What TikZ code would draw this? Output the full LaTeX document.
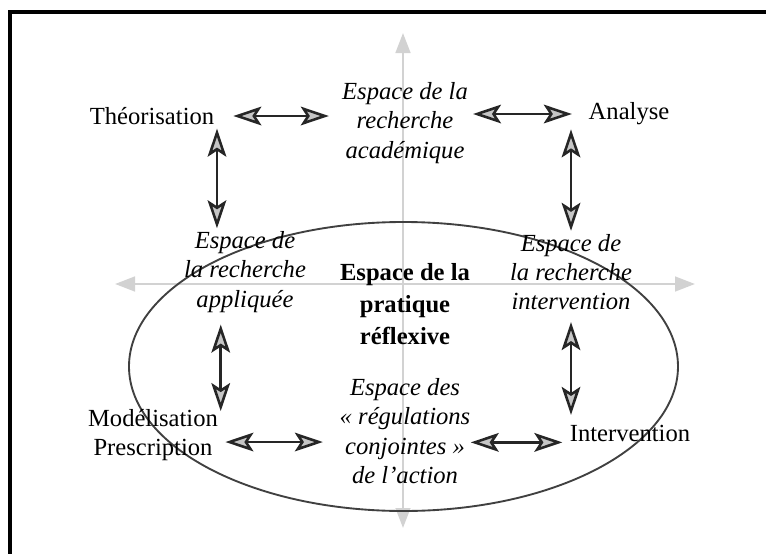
\documentclass[tikz,border=0pt]{standalone}
\usepackage{fontspec}
\setmainfont{Liberation Serif}
\usepackage{xcolor}
\usepackage{tikz}
\usetikzlibrary{arrows.meta, positioning, calc}

\tikzset{
    plain/.style={font=\fontsize{10.5}{12.5}\selectfont, inner sep=1pt, align=center},
    espace/.style={plain, font=\fontsize{10.5}{12.5}\selectfont\itshape},
    centre/.style={plain, font=\fontsize{10.5}{13.5}\selectfont\bfseries},
    dbl/.style={line width=1.1pt, black!85, {Stealth[length=4.2mm,width=2.8mm,inset=0.9mm,fill=gray!45]}-{Stealth[length=4.2mm,width=2.8mm,inset=0.9mm,fill=gray!45]}},
    axe/.style={line width=1.1pt, gray!35, {Triangle[length=3mm,width=2.2mm]}-{Triangle[length=3mm,width=2.2mm]}}
}

\begin{document}
\begin{tikzpicture}[x=0.015cm, y=-0.015cm]
    \useasboundingbox (0,0) rectangle (766,554);
    % cadre
    \draw[line width=1.4pt] (10,558) -- (10,12) -- (770,12);

    % axes
    \coordinate (haut) at (403,33);
    \coordinate (bas) at (403,528);
    \coordinate (gauche) at (115,284);
    \coordinate (droite) at (695,284);
    \draw[axe] (bas) -- (haut);
    \draw[axe] (gauche) -- (droite);

    % ellipse
    \draw[line width=0.8pt, black!75] (403.5,366.5) ellipse [x radius=274.5, y radius=144.5];

    % noeuds
    \node[plain] (theo) at (152,116) {Théorisation};
    \node[espace] (acad) at (405,123) {Espace de la\\recherche\\académique};
    \node[plain] (ana) at (629,114) {Analyse};
    \node[espace] (appl) at (245,272) {Espace de\\la recherche\\appliquée};
    \node[espace] (inter) at (571,272) {Espace de\\la recherche\\intervention};
    \node[centre] (prat) at (405,304) {Espace de la\\pratique\\réflexive};
    \node[plain] (modp) at (153,435) {Modélisation\\Prescription};
    \node[espace] (regul) at (405,431) {Espace des\\« régulations\\conjointes »\\de l'action};
    \node[plain] (interv) at (630,433) {Intervention};

    % fleches
    \draw[dbl, shorten <=7pt, shorten >=4.5pt] (theo.east) -- (theo.east -| acad.west);
    \draw[dbl, shorten <=1pt, shorten >=6pt] (ana.west -| acad.east) -- (ana.west);
    \draw[dbl, shorten <=0.5pt, shorten >=0.2pt] (theo.south east) -- (theo.south east |- appl.north);
    \draw[dbl, shorten <=0.6pt, shorten >=0.2pt] (inter.north |- ana.south) -- (inter.north);
    \draw[dbl, shorten <=4pt, shorten >=-2pt] (modp.north east |- appl.south) -- (modp.north east);
    \draw[dbl, shorten <=4pt, shorten >=3pt] (inter.south) -- (inter.south |- interv.north);
    \draw[dbl, shorten <=2pt, shorten >=6pt] ([yshift=-3]modp.east) -- ([yshift=-3]modp.east -| regul.west);
    \draw[dbl, shorten <=-1pt, shorten >=2pt] ([yshift=-4]interv.west -| regul.east) -- ([yshift=-4]interv.west);
\end{tikzpicture}
\end{document}
